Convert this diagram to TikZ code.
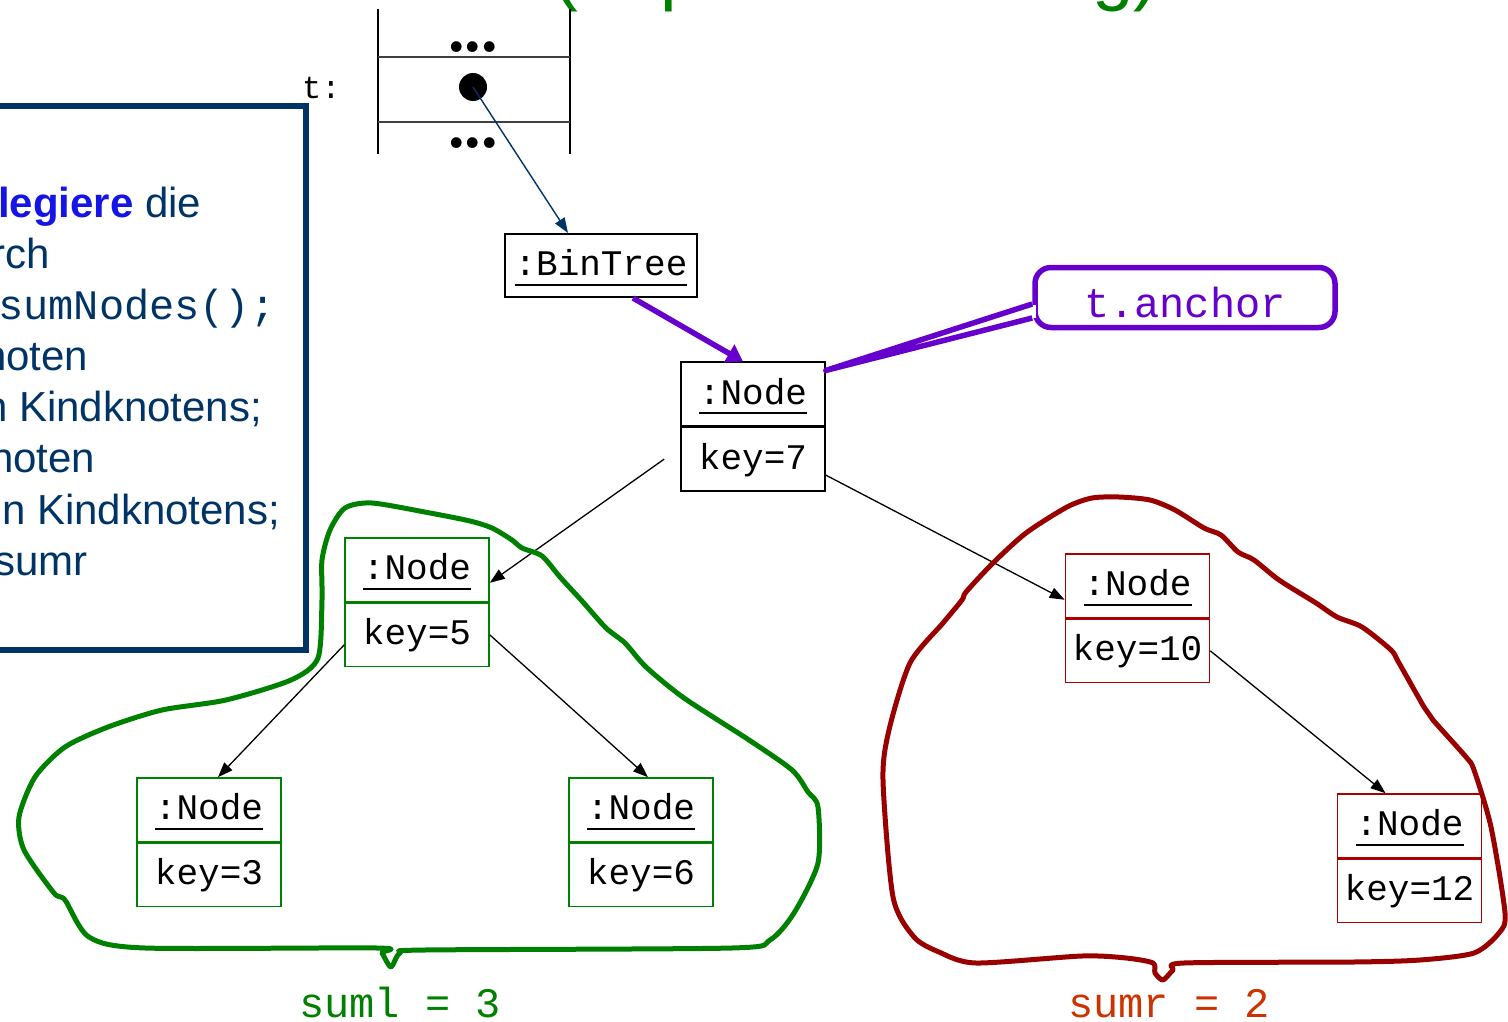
\documentclass[tikz,border=0pt]{standalone}
\usepackage{fontspec}
\setmainfont{Liberation Sans}
\newfontfamily\monof{Liberation Mono}
\newfontfamily\seriff{Liberation Serif}
\usetikzlibrary{arrows.meta}
\definecolor{navy}{RGB}{0,51,102}
\definecolor{tblue}{RGB}{20,20,230}
\definecolor{sgreen}{RGB}{0,128,0}
\definecolor{dred}{RGB}{153,0,0}
\definecolor{nred}{RGB}{170,0,0}
\definecolor{ored}{RGB}{204,51,0}
\definecolor{callvio}{RGB}{102,0,204}
\newcommand\objf{\fontsize{36}{40}\selectfont\monof}
\newcommand\bigmonof{\fontsize{42}{46}\selectfont\monof}
\newcommand\leftf{\fontsize{42}{50}\selectfont}
\newcommand\tlabfont{\fontsize{32}{36}\selectfont\monof}
\newcommand\uln[1]{\vtop{\hbox{#1}\kern8pt\hrule height 2pt}}
\tikzset{
  objbox/.style={draw, line width=1.6pt, minimum width=144pt, minimum height=63.5pt,
    inner sep=0pt, font=\objf, text height=29pt, text depth=9pt},
  gbox/.style={objbox, draw=sgreen},
  rbox/.style={objbox, draw=nred},
  arr/.style={line width=1.3pt, -{Triangle[length=15pt,width=11pt]}},
  navarr/.style={navy, line width=1.4pt, -{Triangle[length=15pt,width=11pt]}},
  purarr/.style={callvio, line width=5.5pt, -{Triangle[length=16pt,width=20pt]}},
  txt/.style={inner sep=0pt, anchor=base west},
  lefttxt/.style={txt, font=\leftf, text=navy},
  dotstxt/.style={inner sep=0pt, anchor=base, font=\fontsize{66}{70}\selectfont\seriff\bfseries},
  blob/.style={line width=5pt, line join=round, line cap=round}
}
\begin{document}
\begin{tikzpicture}[x=1pt,y=-1pt]
\useasboundingbox (0,0) rectangle (1508,1022);
\clip (0,0) rectangle (1508,1022);

% title (only descenders visible)
\node[txt, font=\fontsize{74.6}{80}\selectfont, text=sgreen] (title) at (553,-3) {(Implementierung)};

% left text box
\draw[navy, line width=6pt] (-10,106) -- (306,106) -- (306,650) -- (-10,650);
\node[lefttxt] (l1) at (-2,217) {\textcolor{tblue}{\textbf{legiere}} die};
\node[lefttxt] (l2) at (-9,268) {rch};
\node[lefttxt, font=\bigmonof] (l3) at (-2,319) {sumNodes();};
\node[lefttxt] (l4) at (-17,370) {noten};
\node[lefttxt] (l5) at (-16,421) {n Kindknotens;};
\node[lefttxt] (l6) at (-10,472) {noten};
\node[lefttxt] (l7) at (-21.5,524) {en Kindknotens;};
\node[lefttxt] (l8) at (-6,575) {sumr};

% stack frame
\draw[line width=1.6pt] (378,9) -- (378,154) (570,9) -- (570,154);
\draw[line width=2.2pt, black!75] (378,57) -- (570,57) (378,122) -- (570,122);
\node[dotstxt] (dots1) at (473,52) {...};
\node[dotstxt] (dots2) at (473,148) {...};
\node[txt, font=\tlabfont] (tlab) at (302,99) {t:};
\node[circle, fill=black, minimum size=28pt, inner sep=0pt] (tdot) at (473,87) {};

% object boxes
\node[objbox, minimum width=192pt] (bt) at (601,265.5) {\uln{:BinTree}};
\node[objbox] (n7) at (753,394) {\uln{:Node}};
\node[objbox, anchor=north] (n7k) at (n7.south) {key=7};
\node[gbox] (n5) at (417,569.75) {\uln{:Node}};
\node[gbox, anchor=north] (n5k) at (n5.south) {key=5};
\node[gbox] (n3) at (209,809.75) {\uln{:Node}};
\node[gbox, anchor=north] (n3k) at (n3.south) {key=3};
\node[gbox] (n6) at (641,809.75) {\uln{:Node}};
\node[gbox, anchor=north] (n6k) at (n6.south) {key=6};
\node[rbox] (n10) at (1137.5,585.75) {\uln{:Node}};
\node[rbox, anchor=north] (n10k) at (n10.south) {key=10};
\node[rbox] (n12) at (1409.5,825.75) {\uln{:Node}};
\node[rbox, anchor=north] (n12k) at (n12.south) {key=12};

% connectors
\draw[navarr] (tdot.center) -- ([xshift=-33pt]bt.north);
\draw[purarr] ([xshift=32pt]bt.south) -- ([xshift=-10pt]n7.north);
\draw[arr] ([xshift=-16pt]n7k.west) -- ([yshift=-13pt]n5.east);
\draw[arr] ([yshift=-16pt]n7k.east) -- ([yshift=-14pt]n10.west);
\draw[arr] ([yshift=-10pt]n5k.west) -- ([xshift=9pt]n3.north);
\draw[arr] (n5k.east) -- ([xshift=7pt]n6.north);
\draw[arr] (n10k.east) -- ([xshift=-24pt]n12.north);

% callout
\node[draw=callvio, line width=5.5pt, rounded corners=16pt, minimum width=300pt, minimum height=60pt,
  inner sep=0pt, font=\bigmonof, text=callvio, text height=40pt, text depth=0pt] (anc) at (1185,297.5) {t.anchor};
\fill[white] ([yshift=-7pt,xshift=-4pt]anc.west) rectangle ([yshift=-20pt,xshift=4pt]anc.west);
\draw[callvio, line width=5.5pt, line join=round] ([yshift=-6.5pt]anc.west) -- ([yshift=-9pt]n7.north east) -- ([yshift=-20.5pt]anc.west);

% green blob
\draw[blob, sgreen] plot[smooth cycle, tension=0.45] coordinates {
(345,508) (372,503) (430,513) (470,521) (492,528) (512,540) (522,548) (542,556)
(560,577) (582,601) (606,628) (625,643) (646,667) (684,698) (749,740) (792,770)
(808,792) (818,807) (818,863) (794,913) (770,940) (732,948) (425,950) (400,953)
(391,967) (382,953) (377,948) (145,948) (89,937) (65,900) (54,893) (24,850)
(19,817) (35,777) (65,747) (108,727) (162,710) (226,700) (291,680) (318,658)
(322,600) (322,560) (330,530)};

% red blob
\draw[blob, dred] plot[smooth cycle, tension=0.45] coordinates {
(1092,498) (1119,497) (1150,500) (1175,510) (1204,528) (1221,535) (1238,552) (1254,560)
(1279,580) (1316,603) (1337,617) (1362,627) (1391,650) (1399,663) (1424,707) (1433,720)
(1466,757) (1474,770) (1491,827) (1505,913) (1499,933) (1474,953) (1420,960) (1354,962)
(1184,963) (1173,970) (1163,980) (1155,973) (1153,963) (1126,958) (1082,956) (976,963)
(939,952) (914,937) (893,897) (883,780) (889,730) (910,663) (943,623) (962,600)
(966,592) (993,563) (1026,533) (1067,507)};

% sums
\node[txt, font=\bigmonof, text=sgreen] (suml) at (299,1017) {suml = 3};
\node[txt, font=\bigmonof, text=ored] (sumr) at (1068,1017) {sumr = 2};
\end{tikzpicture}
\end{document}
